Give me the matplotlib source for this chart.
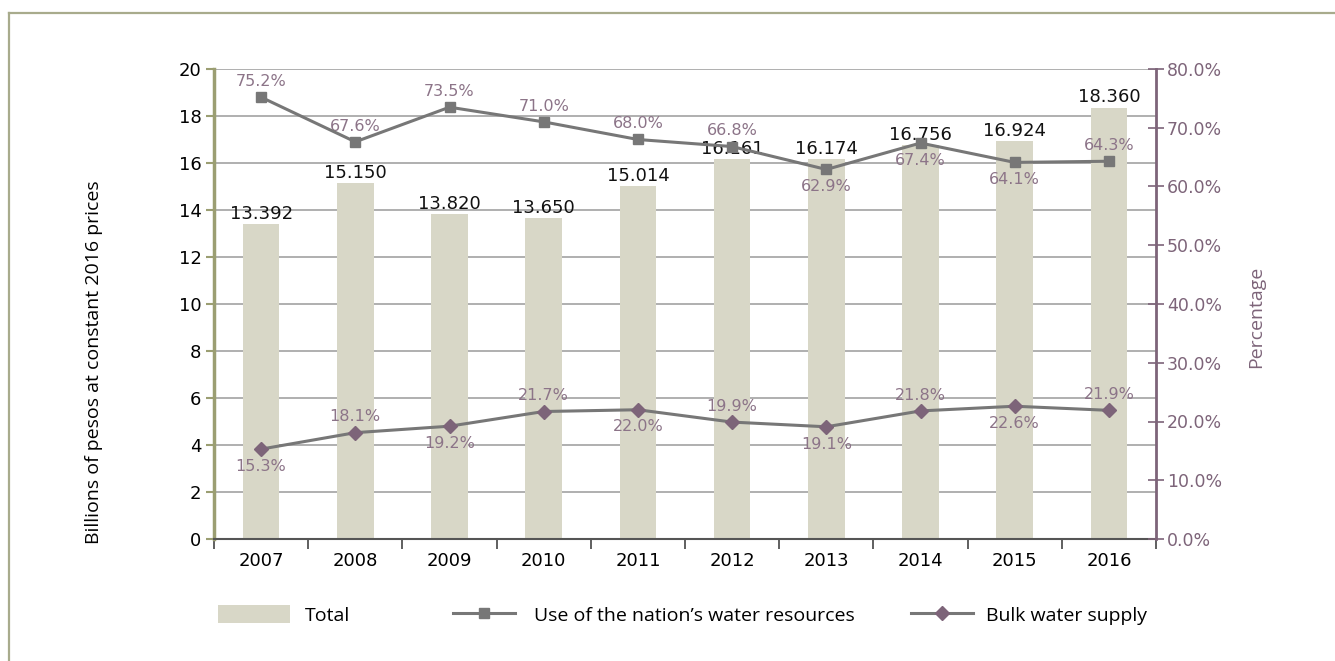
import numpy as np
import matplotlib
matplotlib.use('Agg')
import matplotlib.pyplot as plt
from matplotlib.lines import Line2D

years = ['2007', '2008', '2009', '2010', '2011', '2012', '2013', '2014', '2015', '2016']
total = [13.392, 15.150, 13.820, 13.650, 15.014, 16.161, 16.174, 16.756, 16.924, 18.360]
use_pct = [75.2, 67.6, 73.5, 71.0, 68.0, 66.8, 62.9, 67.4, 64.1, 64.3]
bulk_pct = [15.3, 18.1, 19.2, 21.7, 22.0, 19.9, 19.1, 21.8, 22.6, 21.9]
# label side for each point: 1 above, -1 below
use_side = [1, 1, 1, 1, 1, 1, -1, -1, -1, 1]
bulk_side = [-1, 1, -1, 1, -1, 1, -1, 1, -1, 1]

bar_c = '#d8d7c7'
line_c = '#777777'
purple = '#7d6479'
lab_purple = '#8c7488'
olive = '#9b9e72'

W, H = 1335, 661
fig = plt.figure(figsize=(W / 100, H / 100), dpi=100)
ax = fig.add_axes([214 / W, 1 - 539 / H, (1156 - 214) / W, (539 - 69) / H])
ax2 = ax.twinx()

x = np.arange(len(years))
bars = ax.bar(x, total, width=0.39, color=bar_c, zorder=2, label='Total')
for xi, v in zip(x, total):
    ax.annotate('{:.3f}'.format(v), (xi, v), xytext=(0, 1), textcoords='offset points',
                ha='center', va='bottom', fontsize=13, color='#111111', zorder=5)

ax.set_ylim(0, 20)
ax.set_yticks(np.arange(0, 21, 2))
ax.set_xlim(-0.5, len(years) - 0.5)
ax.set_xticks(x)
ax.set_xticklabels(years)
ax.set_xticks(np.arange(-0.5, len(years), 1), minor=True)
ax.tick_params(axis='x', which='major', length=0, labelsize=13, pad=9)
ax.tick_params(axis='x', which='minor', length=7, width=1.2, color='#444444', direction='out')
ax.tick_params(axis='y', length=6, width=1.5, color=olive, labelsize=13, pad=3)
ax.yaxis.grid(True, color='#9a9a9a', lw=1.1, zorder=0)
ax.set_axisbelow(True)
ax.spines['left'].set_color(olive)
ax.spines['left'].set_linewidth(2.5)
ax.spines['bottom'].set_color('#555555')
ax.spines['bottom'].set_linewidth(1.5)
ax.spines['top'].set_visible(False)
ax.spines['right'].set_visible(False)
ax.set_ylabel('Billions of pesos at constant 2016 prices', fontsize=14, family='Open Sans')
ax.yaxis.set_label_coords(-0.118, 0.377)

l1, = ax2.plot(x, use_pct, color=line_c, lw=2.2, marker='s', ms=7.5, mfc=line_c,
               mec=line_c, zorder=4, label='Use of the nation\u2019s water resources')
l2, = ax2.plot(x, bulk_pct, color=line_c, lw=2.2, marker='D', ms=7, mfc=purple,
               mec=purple, zorder=4, label='Bulk water supply')
for vals, sides in ((use_pct, use_side), (bulk_pct, bulk_side)):
    for xi, v, s in zip(x, vals, sides):
        ax2.annotate('{:.1f}%'.format(v), (xi, v), xytext=(0, 6 if s > 0 else -7),
                     textcoords='offset points', ha='center',
                     va='bottom' if s > 0 else 'top', fontsize=11.5, color=lab_purple)

ax2.set_ylim(0, 80)
ax2.set_yticks(np.arange(0, 81, 10))
ax2.set_yticklabels(['{:.1f}%'.format(t) for t in np.arange(0, 81, 10)])
ax2.tick_params(axis='y', direction='inout', length=12, width=1.2, color=purple,
                labelcolor=purple, labelsize=12.5, pad=2)
ax2.spines['right'].set_color(purple)
ax2.spines['right'].set_linewidth(2)
for s in ('left', 'top', 'bottom'):
    ax2.spines[s].set_visible(False)
ax2.set_ylabel('Percentage', fontsize=14, color=purple, family='Open Sans')
ax2.yaxis.set_label_coords(1.0966, 0.472)

# legend, one entry each to match the uneven spacing
leg_y = 1 - 615 / H
for handle, xpos, hl, pad in ((bars, 218, 3.7, 0.75), (l1, 453, 3.2, 0.95), (l2, 911, 3.2, 0.65)):
    fig.legend(handles=[handle], loc='center left', bbox_to_anchor=(xpos / W, leg_y),
               frameon=False, borderpad=0, borderaxespad=0, handlelength=hl,
               handleheight=1.05, handletextpad=pad, prop={'family': 'Open Sans', 'size': 14})

# partial outer frame
fig.add_artist(Line2D([9 / W, 9 / W], [1 - 13 / H, 0], color='#a8ab8c', lw=1.6))
fig.add_artist(Line2D([9 / W, 1], [1 - 13 / H, 1 - 13 / H], color='#a8ab8c', lw=1.6))

plt.savefig('out.png', dpi=100)
